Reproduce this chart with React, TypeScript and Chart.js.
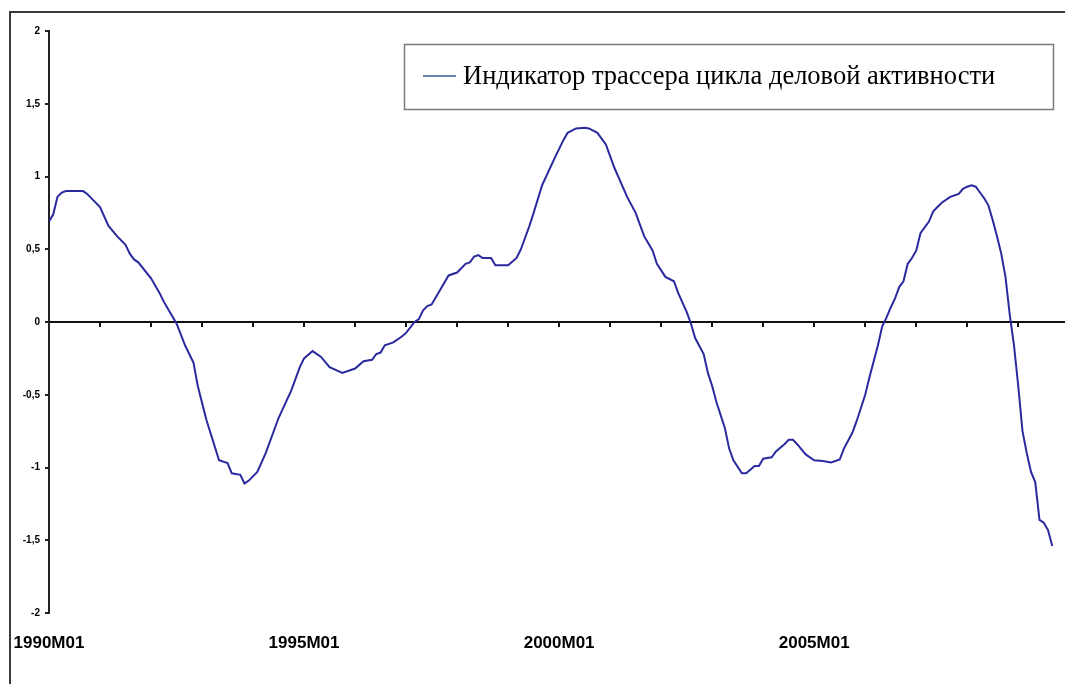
import React, { useEffect, useRef } from "react";
import { Chart, registerables } from "chart.js";

Chart.register(...registerables);

const SERIES_LABEL = "Индикатор трассера цикла деловой активности";

// Months since 1990M01
const MONTHS = [
  0, 1, 2, 3, 4, 8, 9, 10, 12, 14, 16, 18, 19, 20, 21, 24, 26, 27, 28, 30,
  32, 34, 35, 37, 40, 42, 43, 45, 46, 47, 49, 51, 54, 57, 59, 60, 62, 64, 66, 69,
  71, 72, 74, 76, 77, 78, 79, 81, 83, 84, 86, 87, 88, 89, 90, 92, 94, 96, 98, 99,
  100, 101, 102, 104, 105, 108, 110, 111, 113, 114, 116, 119, 121, 122, 124, 126, 127, 129, 131, 133,
  136, 138, 140, 142, 143, 145, 147, 148, 150, 151, 152, 154, 155, 156, 157, 159, 160, 161, 163, 164,
  166, 167, 168, 170, 171, 173, 174, 175, 176, 178, 180, 182, 184, 186, 187, 189, 190, 192, 193, 195,
  196, 197, 198, 199, 200, 201, 202, 203, 204, 205, 207, 208, 209, 210, 212, 214, 215, 216, 217, 218,
  219, 220, 221, 222, 223, 224, 225, 226, 227, 228, 229, 230, 231, 232, 233, 234, 235, 236,
];

const VALUES = [
  0.69, 0.74, 0.86, 0.89, 0.9, 0.9, 0.88, 0.85, 0.79, 0.66, 0.59, 0.53, 0.47, 0.43, 0.41, 0.3, 0.2, 0.14, 0.09, -0.01,
  -0.16, -0.28, -0.44, -0.67, -0.95, -0.97, -1.04, -1.05, -1.11, -1.09, -1.03, -0.9, -0.66, -0.47, -0.31, -0.25, -0.2, -0.24, -0.31, -0.35,
  -0.33, -0.32, -0.27, -0.26, -0.22, -0.21, -0.16, -0.14, -0.1, -0.075, 0.0, 0.02, 0.08, 0.11, 0.12, 0.22, 0.32, 0.34, 0.4, 0.41,
  0.45, 0.46, 0.44, 0.44, 0.39, 0.39, 0.44, 0.5, 0.66, 0.75, 0.94, 1.13, 1.25, 1.3, 1.33, 1.335, 1.33, 1.3, 1.22, 1.06,
  0.86, 0.75, 0.59, 0.49, 0.4, 0.31, 0.28, 0.2, 0.07, -0.01, -0.11, -0.22, -0.35, -0.44, -0.55, -0.73, -0.87, -0.95, -1.04, -1.04,
  -0.99, -0.99, -0.94, -0.93, -0.89, -0.84, -0.81, -0.81, -0.84, -0.91, -0.95, -0.955, -0.965, -0.945, -0.87, -0.76, -0.68, -0.5, -0.38, -0.16,
  -0.03, 0.03, 0.1, 0.16, 0.24, 0.28, 0.4, 0.44, 0.49, 0.61, 0.69, 0.76, 0.79, 0.82, 0.86, 0.88, 0.915, 0.93, 0.94, 0.93,
  0.89, 0.85, 0.8, 0.7, 0.59, 0.47, 0.31, 0.05, -0.16, -0.44, -0.75, -0.9, -1.03, -1.1, -1.36, -1.38, -1.43, -1.54,
];

const START_YEAR = 1990;
const X_MAX_MONTH = 239;
const X_LABEL_MONTHS = [0, 60, 120, 180];
const X_TICK_STEP = 12; // yearly marks on zero line
const Y_MIN = -2;
const Y_MAX = 2;
const Y_STEP = 0.5;

const LINE_COLOR = "#2a2a9e";
const LEGEND_SAMPLE_COLOR = "#2d5f91";

export default function App() {
  const canvasRef = useRef<HTMLCanvasElement | null>(null);

  useEffect(() => {
    if (!canvasRef.current) return;

    const framePlugin = {
      id: "frame",
      beforeDraw(chart: any) {
        const ctx = chart.ctx;
        ctx.save();
        ctx.strokeStyle = "#3a3a3a";
        ctx.lineWidth = 2;
        ctx.beginPath();
        ctx.moveTo(10, chart.height);
        ctx.lineTo(10, 12);
        ctx.lineTo(chart.width, 12);
        ctx.stroke();
        ctx.restore();
      },
    };

    const zeroAxisPlugin = {
      id: "zeroAxis",
      beforeDatasetsDraw(chart: any) {
        const { ctx, chartArea, scales } = chart;
        const y0 = Math.round(scales.y.getPixelForValue(0));
        ctx.save();
        ctx.strokeStyle = "#111";
        ctx.lineWidth = 2;
        ctx.beginPath();
        ctx.moveTo(chartArea.left, y0);
        ctx.lineTo(chartArea.right, y0);
        for (let m = X_TICK_STEP; m <= X_MAX_MONTH; m += X_TICK_STEP) {
          const px = Math.round(scales.x.getPixelForValue(m));
          ctx.moveTo(px, y0);
          ctx.lineTo(px, y0 + 5);
        }
        ctx.stroke();
        ctx.restore();
      },
    };

    const legendPlugin = {
      id: "legendBox",
      afterDraw(chart: any) {
        const ctx = chart.ctx;
        const ds = chart.data.datasets[0];
        ctx.save();
        ctx.fillStyle = "#fff";
        ctx.fillRect(404, 44, 650, 65);
        ctx.strokeStyle = "#7a7a7a";
        ctx.lineWidth = 1.5;
        ctx.strokeRect(404.5, 44.5, 649, 65);
        ctx.strokeStyle = LEGEND_SAMPLE_COLOR;
        ctx.lineWidth = 1.5;
        ctx.beginPath();
        ctx.moveTo(423, 76);
        ctx.lineTo(456, 76);
        ctx.stroke();
        ctx.fillStyle = "#000";
        ctx.font = '26.5px "Liberation Serif", "Times New Roman", serif';
        ctx.textBaseline = "middle";
        ctx.textAlign = "left";
        ctx.fillText(ds.label, 463, 77);
        ctx.restore();
      },
    };

    const chart = new Chart(canvasRef.current, {
      type: "line",
      data: {
        datasets: [
          {
            label: SERIES_LABEL,
            data: MONTHS.map((m, i) => ({ x: m, y: VALUES[i] })),
            borderColor: LINE_COLOR,
            borderWidth: 2,
            pointRadius: 0,
            tension: 0,
            fill: false,
          },
        ],
      },
      options: {
        animation: false,
        responsive: true,
        maintainAspectRatio: false,
        layout: { padding: { top: 31, left: 0, right: 0, bottom: 0 } },
        plugins: {
          legend: { display: false },
          tooltip: { enabled: false },
        },
        scales: {
          x: {
            type: "linear",
            min: 0,
            max: X_MAX_MONTH,
            position: "bottom",
            grid: { display: false, drawTicks: true, tickLength: 20 },
            border: { display: false },
            afterBuildTicks: (s: any) => {
              s.ticks = X_LABEL_MONTHS.map((v) => ({ value: v }));
            },
            ticks: {
              autoSkip: false,
              maxRotation: 0,
              minRotation: 0,
              padding: 0,
              color: "#000",
              font: { family: '"Liberation Sans", Arial, sans-serif', size: 17, weight: "bold" },
              callback: (v: any) => `${START_YEAR + Math.round(Number(v) / 12)}M01`,
            },
            afterFit: (s: any) => {
              s.height = 71;
            },
          },
          y: {
            min: Y_MIN,
            max: Y_MAX,
            ticks: {
              stepSize: Y_STEP,
              padding: 5,
              color: "#000",
              font: { family: '"Liberation Sans", Arial, sans-serif', size: 10, weight: "bold" },
              callback: (v: any) => String(v).replace(".", ","),
            },
            grid: {
              drawOnChartArea: false,
              drawTicks: true,
              tickLength: 4,
              lineWidth: 2,
              color: "#222",
            },
            border: { display: true, color: "#222", width: 2 },
            afterFit: (s: any) => {
              s.width = 49;
            },
          },
        },
      },
      plugins: [framePlugin, zeroAxisPlugin, legendPlugin],
    });

    return () => chart.destroy();
  }, []);

  return (
    <div
      style={{
        position: "fixed",
        left: 0,
        top: 0,
        width: 1065,
        height: 684,
        background: "#fff",
      }}
    >
      <canvas ref={canvasRef} />
    </div>
  );
}
